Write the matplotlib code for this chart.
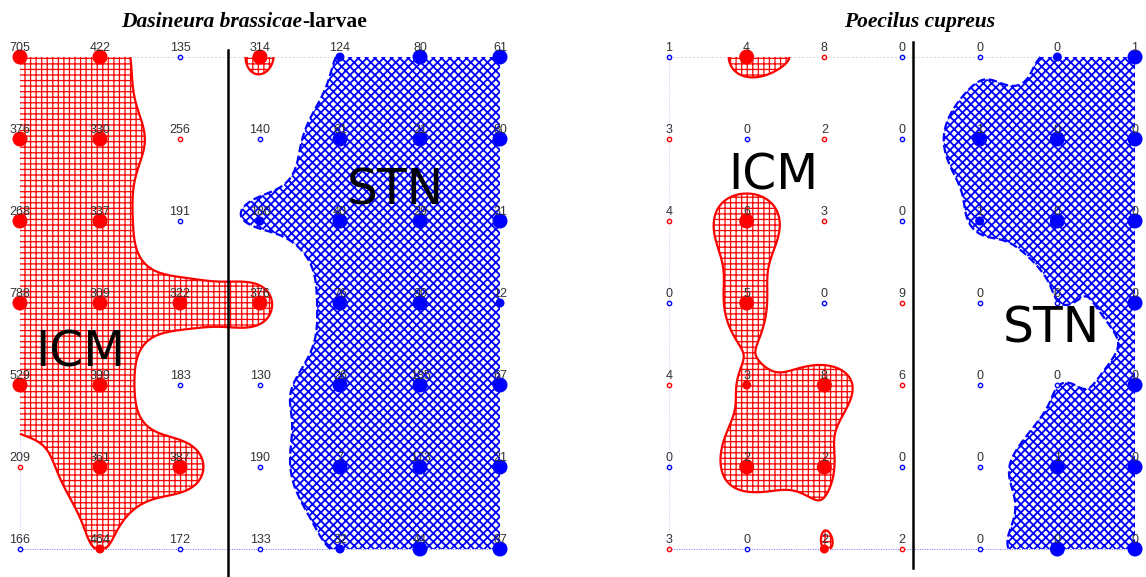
import numpy as np
import matplotlib
matplotlib.use("Agg")
import matplotlib.pyplot as plt

W, H = 1146, 577

# ---------------- data ----------------
left_title_italic = "Dasineura brassicae"
left_title_plain = "-larvae"
right_title = "Poecilus cupreus"

left_counts = [
    [705, 422, 135, 314, 124, 80, 61],
    [376, 330, 256, 140, 61, 21, 80],
    [268, 337, 191, 180, 40, 29, 31],
    [788, 309, 322, 376, 76, 90, 12],
    [529, 399, 183, 130, 26, 185, 67],
    [209, 361, 387, 190, 7, 173, 21],
    [166, 464, 172, 133, 32, 44, 87],
]
# clustering index (positive = patch, negative = gap), estimated
left_index = [
    [3.2, 3.0, -1.0, 1.72, -1.6, -2.6, -2.8],
    [3.0, 3.0, 0.6, -0.3, -2.7, -3.0, -2.7],
    [3.0, 3.0, -0.8, -1.65, -2.8, -3.0, -3.0],
    [3.2, 3.0, 2.2, 1.9, -2.5, -2.6, -1.6],
    [3.0, 3.0, -0.5, -1.0, -2.6, -2.6, -2.6],
    [0.7, 2.8, 2.2, -0.7, -3.0, -2.6, -2.8],
    [-0.9, 1.52, -0.9, -0.8, -1.6, -2.6, -2.6],
]

right_counts = [
    [1, 4, 8, 0, 0, 0, 1],
    [3, 0, 2, 0, 1, 0, 0],
    [4, 6, 3, 0, 1, 0, 0],
    [0, 5, 0, 9, 0, 0, 0],
    [4, 3, 8, 6, 0, 0, 0],
    [0, 2, 2, 0, 0, 1, 0],
    [3, 0, 2, 2, 0, 0, 0],
]
right_index = [
    [-0.5, 1.9, 1.35, -0.4, -1.3, -1.65, -2.6],
    [0.5, -0.5, 0.4, -0.5, -2.6, -2.8, -2.8],
    [0.3, 2.4, 0.3, -0.4, -1.65, -2.6, -2.6],
    [-0.4, 2.0, -0.8, 0.9, -0.6, -1.49, -1.8],
    [0.6, 1.6, 2.0, 0.7, -0.5, -1.49, -1.8],
    [-0.4, 2.3, 1.72, -1.2, -1.2, -2.7, -2.7],
    [0.4, -1.0, 1.5, 0.05, -1.2, -2.6, -2.6],
]

THRESH = 1.5      # contour level of the index
BIG = 1.7         # index above which the symbol is drawn large

# ---------------- layout ----------------
panels = [
    dict(counts=left_counts, index=left_index, x0=20.0, dx=80.0, sigma=0.45,
         sep=2.6, sep_y=(-0.085, 6.34),
         icm=(0.76, 3.78), stn=(4.69, 1.80)),
    dict(counts=right_counts, index=right_index, x0=669.0, dx=77.67, sigma=0.42,
         sep=3.14, sep_y=(-0.18, 6.23),
         icm=(1.34, 1.61), stn=(4.92, 3.48)),
]
Y0, DY = 57.0, 82.0
XLIM = (-0.35, 6.35)
YLIM = (6.3, -0.55)


def rbf_field(v, sigma, gx, gy):
    v = np.asarray(v, float)
    ny, nx = v.shape
    X, Y = np.meshgrid(np.arange(nx), np.arange(ny))
    pts = np.column_stack([X.ravel(), Y.ravel()]).astype(float)
    d2 = ((pts[:, None, :] - pts[None, :, :]) ** 2).sum(-1)
    K = np.exp(-d2 / (2 * sigma ** 2))
    w = np.linalg.solve(K, v.ravel())
    GX, GY = np.meshgrid(gx, gy)
    g = np.column_stack([GX.ravel(), GY.ravel()])
    d2g = ((g[:, None, :] - pts[None, :, :]) ** 2).sum(-1)
    return (np.exp(-d2g / (2 * sigma ** 2)) @ w).reshape(GX.shape)


big_font = dict(family="DejaVu Sans", size=35)

fig = plt.figure(figsize=(W / 100, H / 100), dpi=100)

for p in panels:
    x0, dx = p["x0"], p["dx"]
    left_px = x0 + XLIM[0] * dx
    width_px = (XLIM[1] - XLIM[0]) * dx
    top_px = Y0 + YLIM[1] * DY
    bot_px = Y0 + YLIM[0] * DY
    ax = fig.add_axes([left_px / W, 1 - bot_px / H, width_px / W, (bot_px - top_px) / H])
    ax.set_xlim(*XLIM)
    ax.set_ylim(*YLIM)
    ax.axis("off")

    v = np.asarray(p["index"], float)
    ny, nx = v.shape
    gx = np.linspace(0, nx - 1, 361)
    gy = np.linspace(0, ny - 1, 361)
    F = rbf_field(v, p["sigma"], gx, gy)

    # faint frame of sampling grid
    ax.plot([0, nx - 1], [0, 0], color="#d8d8d8", ls=(0, (2, 2)), lw=0.7, zorder=0.5)
    ax.plot([0, nx - 1], [ny - 1, ny - 1], color="#7070ff", ls=(0, (1, 1.5)), lw=0.7, zorder=0.5)
    ax.plot([0, 0], [0, ny - 1], color="#c8c8ff", ls=(0, (1, 1.5)), lw=0.7, zorder=0.5)

    with plt.rc_context({"hatch.color": "red", "hatch.linewidth": 0.9}):
        cs = ax.contourf(gx, gy, F, levels=[THRESH, 1e9], colors="white",
                         hatches=["+++"], zorder=1)
    cs.set_edgecolor("red")
    cs.set_linewidth(0)
    with plt.rc_context({"hatch.color": "blue", "hatch.linewidth": 1.3}):
        cs2 = ax.contourf(gx, gy, F, levels=[-1e9, -THRESH], colors="white",
                          hatches=["xxxx"], zorder=1)
    cs2.set_edgecolor("blue")
    cs2.set_linewidth(0)
    ax.contour(gx, gy, F, levels=[THRESH], colors="red", linewidths=1.6, zorder=2)
    ax.contour(gx, gy, F, levels=[-THRESH], colors="blue", linewidths=1.6, zorder=2)

    # separator
    ax.plot([p["sep"], p["sep"]], list(p["sep_y"]), color="black", lw=1.8,
            clip_on=False, zorder=3)

    # markers
    for i in range(ny):
        for j in range(nx):
            val = v[i, j]
            col = "red" if val > 0 else "blue"
            if abs(val) >= THRESH:
                d = (15.0 if abs(val) >= BIG else 9.0) * 0.72
                ax.scatter([j], [i], s=d ** 2, color=col, edgecolors="none",
                           zorder=4, clip_on=False)
            else:
                ax.scatter([j], [i], s=(4.3 * 0.72) ** 2, facecolors="white",
                           edgecolors=col, linewidths=1.0, zorder=4, clip_on=False)
            ax.annotate(str(p["counts"][i][j]), (j, i), xytext=(0, 4.3),
                        textcoords="offset points", ha="center", va="baseline",
                        fontsize=9, color="#333333", family="Liberation Sans",
                        zorder=5, annotation_clip=False)

    ax.text(*p["icm"], "ICM", ha="center", va="baseline", color="black",
            zorder=6, **big_font)
    ax.text(*p["stn"], "STN", ha="center", va="baseline", color="black",
            zorder=6, **big_font)

# titles
tfont = dict(family="Liberation Serif", weight="bold", size=15.5)
fig.text(302 / W, 1 - 27 / H, left_title_italic, ha="right", va="baseline",
         style="italic", **tfont)
fig.text(302 / W, 1 - 27 / H, left_title_plain, ha="left", va="baseline", **tfont)
fig.text(920 / W, 1 - 27 / H, right_title, ha="center", va="baseline",
         style="italic", **tfont)

fig.savefig("out.png", dpi=100, facecolor="white")
